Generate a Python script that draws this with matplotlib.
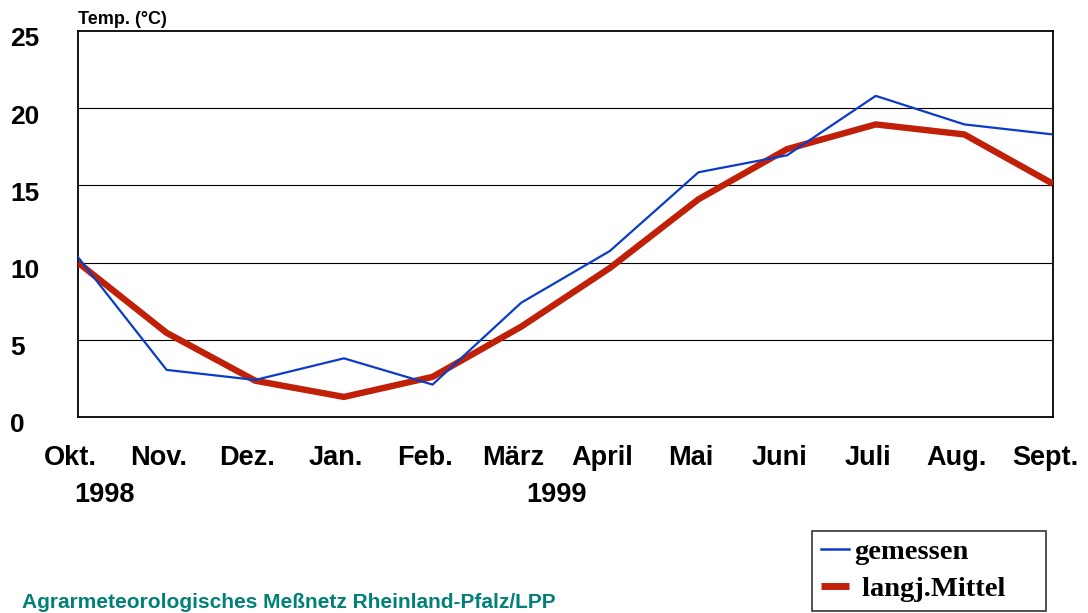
import matplotlib
matplotlib.use("Agg")
import matplotlib.pyplot as plt
from matplotlib.lines import Line2D
import matplotlib.transforms as mtransforms

# Monatsmittel der Lufttemperatur
months = ['Okt.', 'Nov.', 'Dez.', 'Jan.', 'Feb.', 'März', 'April', 'Mai',
          'Juni', 'Juli', 'Aug.', 'Sept.']
gemessen = [10.35, 3.05, 2.4, 3.8, 2.1, 7.4, 10.75, 15.85, 16.95, 20.8, 18.95, 18.3]
mittel = [10.0, 5.45, 2.35, 1.3, 2.6, 5.85, 9.65, 14.1, 17.35, 18.95, 18.3, 15.1]
yticks = [0, 5, 10, 15, 20, 25]

blue = '#0a3cc8'
red = '#c02008'

plt.rcParams['font.family'] = ['Liberation Sans', 'DejaVu Sans']

fig = plt.figure(figsize=(10.88, 6.13), dpi=100)
ax = fig.add_axes([78 / 1088, 1 - 417 / 613, 975 / 1088, 386 / 613])

x = list(range(len(months)))
ax.plot(x, mittel, color=red, lw=4.6, solid_capstyle='butt', zorder=3)
ax.plot(x, gemessen, color=blue, lw=1.6, zorder=4)

ax.set_xlim(0, len(months) - 1)
ax.set_ylim(0, 25)
for v in yticks[1:-1]:
    ax.axhline(v, color='black', lw=0.8, zorder=1)

for s in ax.spines.values():
    s.set_linewidth(1.3)

ax.set_yticks(yticks)
ax.set_yticklabels([str(v) for v in yticks], fontsize=19, fontweight='bold', ha='left')
ax.tick_params(axis='y', length=0, pad=49)
for lab in ax.get_yticklabels():
    lab.set_transform(lab.get_transform() + mtransforms.ScaledTranslation(0, -0.06, fig.dpi_scale_trans))

ax.set_xticks(x)
ax.set_xticklabels(months, fontsize=19.5, fontweight='bold')
ax.tick_params(axis='x', length=0, pad=20)
for lab in ax.get_xticklabels():
    lab.set_transform(lab.get_transform() + mtransforms.ScaledTranslation(-0.08, 0, fig.dpi_scale_trans))

fig.text(104 / 1088, 1 - 495 / 613, '1998', fontsize=19.5, fontweight='bold', ha='center', va='center')
fig.text(556 / 1088, 1 - 495 / 613, '1999', fontsize=19.5, fontweight='bold', ha='center', va='center')
fig.text(78 / 1088, 1 - 19 / 613, 'Temp. (°C)', fontsize=13, fontweight='bold', ha='left', va='center')

fig.text(22 / 1088, 1 / 613, 'Agrarmeteorologisches Meßnetz Rheinland-Pfalz/LPP',
         fontsize=15, fontweight='bold', color='#008078', ha='left', va='bottom')

handles = [Line2D([], [], color=blue, lw=1.8), Line2D([], [], color=red, lw=5, solid_capstyle='butt')]
leg = fig.legend(handles, ['gemessen', ' langj.Mittel'], loc='lower left',
                 bbox_to_anchor=(812 / 1088, 1 - 611 / 613, 234 / 1088, 78 / 613), mode='expand',
                 prop={'family': 'Liberation Serif', 'weight': 'bold', 'size': 20.5},
                 frameon=True, fancybox=False, edgecolor='black', handlelength=1.0,
                 handletextpad=0.2, borderpad=0.3, labelspacing=0.4, borderaxespad=0)
leg.get_frame().set_linewidth(1.2)

fig.savefig('out.png', dpi=100)
